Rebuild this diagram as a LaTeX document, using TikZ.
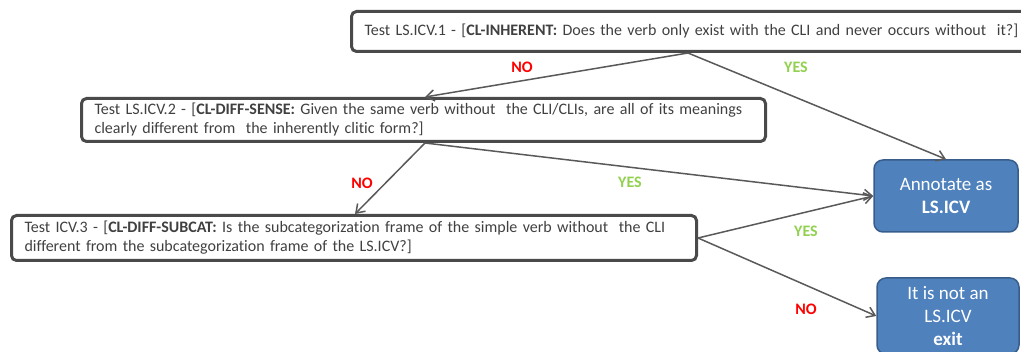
\documentclass[tikz,border=0pt]{standalone}
\usepackage{fontspec}
\setmainfont{Carlito}[Ligatures=NoCommon]
\usetikzlibrary{arrows.meta}
\definecolor{boxline}{HTML}{4A4A4A}
\definecolor{boxtext}{HTML}{404040}
\definecolor{arrowline}{HTML}{595959}
\definecolor{resfill}{HTML}{4F81BD}
\definecolor{resline}{HTML}{385D8A}
\definecolor{nored}{HTML}{FF0000}
\definecolor{yesgreen}{HTML}{92D050}
\tikzset{
  testbox/.style={draw=boxline, line width=3pt, rounded corners=5pt, anchor=north west,
    inner xsep=13pt, inner ysep=0pt, align=left, text=boxtext,
    font=\fontsize{16}{19}\selectfont},
  resbox/.style={draw=resline, fill=resfill, line width=1.5pt, rounded corners=9pt,
    text=white, align=center, font=\fontsize{19}{23}\selectfont},
  flow/.style={draw=arrowline, line width=1.5pt, -{Straight Barb[length=8pt,width=11pt]}},
  nolabel/.style={text=nored, font=\bfseries\fontsize{16}{18}\selectfont},
  yeslabel/.style={text=yesgreen, font=\bfseries\fontsize{16}{18}\selectfont}
}
\begin{document}
\begin{tikzpicture}[x=1pt,y=-1pt]
  \useasboundingbox (0,0) rectangle (1021,352);
  \node[testbox, minimum width=680pt, minimum height=40pt, text width=654pt] (t1) at (350,10)
    {Test LS.ICV.1 - [\textbf{CL-INHERENT:} Does the verb only exist with the CLI and never occurs without\ \ it?]};
  \node[testbox, minimum width=684pt, minimum height=43pt, text width=658pt] (t2) at (80,97)
    {Test LS.ICV.2 - [\textbf{CL-DIFF-SENSE:} Given the same verb without\ \ the CLI/CLIs, are all of its meanings\\
     clearly different from\ \ the inherently clitic form?]};
  \node[testbox, minimum width=685pt, minimum height=45pt, text width=659pt] (t3) at (10,214)
    {Test ICV.3 - [\textbf{CL-DIFF-SUBCAT:} Is the subcategorization frame of the simple verb without\ \ the CLI\\
     different from the subcategorization frame of the LS.ICV?]};
  \node[resbox, minimum width=144pt, minimum height=72pt] (ann) at (946,196)
    {Annotate as\\ \textbf{LS.ICV}};
  \node[resbox, minimum width=142pt, minimum height=76pt] (exit) at (948,316)
    {It is not an\\ LS.ICV\\ \textbf{exit}};

  \draw[flow] ([xshift=338pt]t1.south west) -- ([xshift=345pt]t2.north west);
  \draw[flow] ([xshift=338pt]t1.south west) -- (ann.north);
  \draw[flow] ([xshift=345pt]t2.south west) -- ([xshift=345pt]t3.north west);
  \draw[flow] ([xshift=345pt]t2.south west) -- (ann.west);
  \draw[flow] (t3.east) -- (ann.west);
  \draw[flow] (t3.east) -- (exit.west);

  \node[nolabel] (no1) at (522,67) {NO};
  \node[yeslabel] (yes1) at (796,67) {YES};
  \node[nolabel] (no2) at (362,183) {NO};
  \node[yeslabel] (yes2) at (630,182) {YES};
  \node[yeslabel] (yes3) at (806,231) {YES};
  \node[nolabel] (no3) at (806,309) {NO};
\end{tikzpicture}
\end{document}
